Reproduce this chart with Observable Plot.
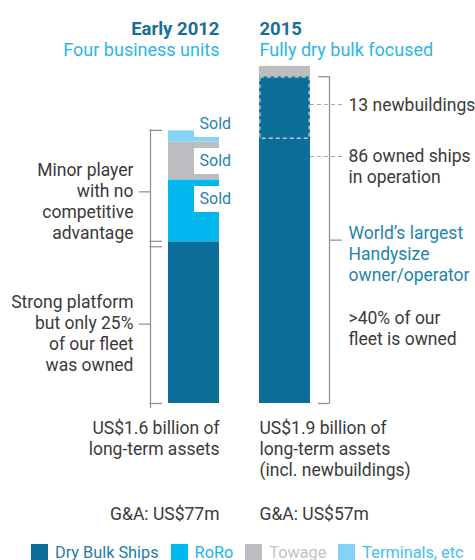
<!DOCTYPE html>
<html><head><meta charset="utf-8">
<script src="https://cdn.jsdelivr.net/npm/d3@7"></script>
<script src="https://cdn.jsdelivr.net/npm/@observablehq/plot@0.6"></script>
<style>
body{margin:0;background:#fff;font-family:Roboto,sans-serif;}
#chart svg{display:block;}
#legend{display:flex;align-items:center;height:24px;padding-top:4px;padding-left:31px;font-size:16.3px;font-family:Roboto,sans-serif;white-space:nowrap;}
#legend .it{display:flex;align-items:center;margin-right:12px;flex-shrink:0;}
#legend .sw{width:17px;height:17px;margin-right:7px;flex-shrink:0;}
</style></head><body>
<div id="chart"></div><div id="legend"></div>
<script>
// ---- data ----
const periods = ["Early 2012", "2015"];
const subtitles = ["Four business units", "Fully dry bulk focused"];
const units = ["Dry Bulk Ships", "RoRo", "Towage", "Terminals, etc"];
const unitColors = ["#0a6e99", "#00b8ef", "#bcbdc0", "#84d3f4"];
const unitLabelColors = ["#1f7ba5", "#16b5ec", "#c2c3c5", "#3fc1f0"];
// Early 2012 long-term assets by unit (US$ billion)
const parts2012 = ["Dry Bulk Ships", "RoRo", "Towage", "Terminals, etc"];
const values2012 = [0.94, 0.36, 0.22, 0.065];
// 2015 long-term assets (US$ billion)
const parts2015 = ["Owned ships in operation", "Newbuildings", "Other"];
const units2015 = ["Dry Bulk Ships", "Dry Bulk Ships", "Towage"];
const values2015 = [1.535, 0.365, 0.06];
const soldUnits = ["Terminals, etc", "Towage", "RoRo"];
const assetsText = ["US$1.6 billion of\nlong-term assets", "US$1.9 billion of\nlong-term assets\n(incl. newbuildings)"];
const gaText = ["G&A: US$77m", "G&A: US$57m"];
const leftNotes = ["Minor player\nwith no\ncompetitive\nadvantage", "Strong platform\nbut only 25%\nof our fleet\nwas owned"];
const rightNotes = ["13 newbuildings", "86 owned ships\nin operation", "World’s largest\nHandysize\nowner/operator", ">40% of our\nfleet is owned"];

// ---- derived rows ----
function stack(period, parts, us, vals) {
  let c = 0;
  return vals.map((v, i) => { const r = {period, part: parts[i], unit: us[i], y1: c, y2: c + v}; c += v; return r; });
}
const rows12 = stack(periods[0], parts2012, parts2012, values2012);
const rows15 = stack(periods[1], parts2015, units2015, values2015);
const rows = [...rows12, ...rows15];
const dry12 = rows12[0], top12 = rows12[rows12.length - 1].y2;
const owned = rows15[0], newb = rows15[1];
const P0 = periods[0], P1 = periods[1];

const ink = "#3a3a3a", brk = "#8c8c8c", teal = "#1a6f96", sky = "#2ab6e9", note = "#1f84ad";
const fs = 17.5, lh = 21 / 17.5;
const bA = {period: P0, y1: dry12.y2, y2: top12, m: (dry12.y2 + top12) / 2};
const bB = {period: P0, y1: 0, y2: dry12.y2, m: dry12.y2 / 2};
const bR = {period: P1, y1: 0, y2: newb.y2, m: newb.y2 / 2};
const sold = rows12.filter(d => soldUnits.includes(d.unit));
const soldTop = sold.filter(d => d.unit === "Terminals, etc");
const soldMid = sold.filter(d => d.unit !== "Terminals, etc");

const T = (o) => ({fontSize: fs, fill: ink, lineHeight: lh, ...o});

const chart = Plot.plot({
  width: 475, height: 536,
  margin: 0,
  style: {fontFamily: "Roboto, sans-serif", background: "#fff"},
  x: {type: "band", domain: periods, range: [168, 310], paddingInner: 0.44, paddingOuter: 0, axis: null},
  y: {domain: [0, 2], range: [403, 59], axis: null},
  color: {domain: units, range: unitColors},
  marks: [
    Plot.barY(rows, {x: "period", y1: "y1", y2: "y2", fill: "unit"}),
    Plot.barY([newb], {x: "period", y1: "y1", y2: "y2", fill: "none", stroke: "#c4c6c8", strokeWidth: 1.4, strokeDasharray: "4,3", inset: 0.8}),
    // Sold label boxes and labels
    Plot.tickY(soldTop, {x: "period", y: "y2", dy: -7, stroke: "#fff", strokeWidth: 26, insetLeft: 26, insetRight: -14}),
    Plot.tickY(soldMid, {x: "period", y: "y2", dy: 19, stroke: "#fff", strokeWidth: 26, insetLeft: 26, insetRight: -14}),
    Plot.text(soldTop, {x: "period", y: "y2", dy: -7, dx: 5.5, text: () => "Sold", textAnchor: "start", fontSize: 16, fill: note}),
    Plot.text(soldMid, {x: "period", y: "y2", dy: 19, dx: 5.5, text: () => "Sold", textAnchor: "start", fontSize: 16, fill: note}),
    // left brackets
    Plot.ruleX([bA], {x: "period", y1: "y1", y2: "y2", dx: -43.5, stroke: brk, strokeWidth: 1.2, insetBottom: 1}),
    Plot.ruleX([bB], {x: "period", y1: "y1", y2: "y2", dx: -43.5, stroke: brk, strokeWidth: 1.2, insetTop: 5}),
    Plot.tickY([bA.y1, bA.y2].map(y => ({period: P0, y})), {x: "period", y: "y", dy: -0.5, stroke: brk, strokeWidth: 1.2, insetLeft: -18.5, insetRight: 57}),
    Plot.tickY([{period: P0, y: bB.y2}], {x: "period", y: "y", dy: 5, stroke: brk, strokeWidth: 1.2, insetLeft: -18.5, insetRight: 57}),
    Plot.tickY([{period: P0, y: bB.y1}], {x: "period", y: "y", stroke: brk, strokeWidth: 1.2, insetLeft: -18.5, insetRight: 57}),
    Plot.tickY([bA], {x: "period", y: "m", dy: 5.5, stroke: brk, strokeWidth: 1.2, insetLeft: -29, insetRight: 69}),
    Plot.tickY([bB], {x: "period", y: "m", dy: 1.5, stroke: brk, strokeWidth: 1.2, insetLeft: -29, insetRight: 69}),
    Plot.text([bA], T({x: "period", y: "m", text: () => leftNotes[0], dx: -60.5, dy: -25, textAnchor: "end", lineAnchor: "top"})),
    Plot.text([bB], T({x: "period", y: "m", text: () => leftNotes[1], dx: -60.5, dy: -30, textAnchor: "end", lineAnchor: "top"})),
    // right bracket
    Plot.ruleX([bR], {x: "period", y1: "y1", y2: "y2", dx: 44.5, stroke: brk, strokeWidth: 1.2}),
    Plot.tickY([bR.y1, bR.y2].map(y => ({period: P1, y})), {x: "period", y: "y", stroke: brk, strokeWidth: 1.2, insetLeft: 59, insetRight: -19.5}),
    Plot.tickY([bR], {x: "period", y: "m", stroke: brk, strokeWidth: 1.2, insetLeft: 70, insetRight: -32}),
    // dashed leaders
    Plot.tickY([{period: P1, y: (newb.y1 + newb.y2) / 2}], {x: "period", y: "y", dy: -3.6, stroke: "#a8a8a8", strokeWidth: 1.2, strokeDasharray: "4,3", insetLeft: 51, insetRight: -35}),
    Plot.tickY([{period: P1, y: owned.y2}], {x: "period", y: "y", dy: 17, stroke: "#a8a8a8", strokeWidth: 1.2, strokeDasharray: "4,3", insetLeft: 51, insetRight: -35}),
    Plot.text([{period: P1, y: (newb.y1 + newb.y2) / 2}], T({x: "period", y: "y", text: () => rightNotes[0], dx: 63.5, dy: -3.6, textAnchor: "start"})),
    Plot.text([{period: P1, y: owned.y2}], T({x: "period", y: "y", text: () => rightNotes[1], dx: 63.5, dy: 7.5, textAnchor: "start", lineAnchor: "top"})),
    Plot.text([bR], T({x: "period", y: "m", text: () => rightNotes[2], dx: 63.5, dy: -16.5, textAnchor: "start", lineAnchor: "top", fill: note})),
    Plot.text([bR], T({x: "period", y: "m", text: () => rightNotes[3], dx: 63.5, dy: 68.5, textAnchor: "start", lineAnchor: "top"})),
    // titles
    Plot.text([P0], {x: d => d, text: d => d, frameAnchor: "top", dy: 21, dx: 25.5, textAnchor: "end", fontSize: 18.5, fontWeight: "bold", fill: teal}),
    Plot.text([P1], {x: d => d, text: d => d, frameAnchor: "top", dy: 21, dx: -25.5, textAnchor: "start", fontSize: 18.5, fontWeight: "bold", fill: teal}),
    Plot.text([P0], {x: d => d, text: () => subtitles[0], frameAnchor: "top", dy: 42.5, dx: 25.5, textAnchor: "end", fontSize: 18, fill: sky}),
    Plot.text([P1], {x: d => d, text: () => subtitles[1], frameAnchor: "top", dy: 42.5, dx: -25.5, textAnchor: "start", fontSize: 18, fill: sky}),
    // bottom texts
    Plot.text([{period: P0, y: 0}], T({x: "period", y: "y", text: () => assetsText[0], dx: 25.5, dy: 16, textAnchor: "end", lineAnchor: "top"})),
    Plot.text([{period: P1, y: 0}], T({x: "period", y: "y", text: () => assetsText[1], dx: -25.5, dy: 16, textAnchor: "start", lineAnchor: "top"})),
    Plot.text([{period: P0, y: 0}], T({x: "period", y: "y", text: () => gaText[0], dx: 25.5, dy: 110, textAnchor: "end"})),
    Plot.text([{period: P1, y: 0}], T({x: "period", y: "y", text: () => gaText[1], dx: -25.5, dy: 110, textAnchor: "start"}))
  ]
});
document.getElementById("chart").appendChild(chart);

const lg = d3.select("#legend");
units.forEach((u, i) => {
  const it = lg.append("div").attr("class", "it");
  it.append("div").attr("class", "sw").style("background", unitColors[i]);
  it.append("span").text(u).style("color", unitLabelColors[i]);
});
</script>
</body></html>
